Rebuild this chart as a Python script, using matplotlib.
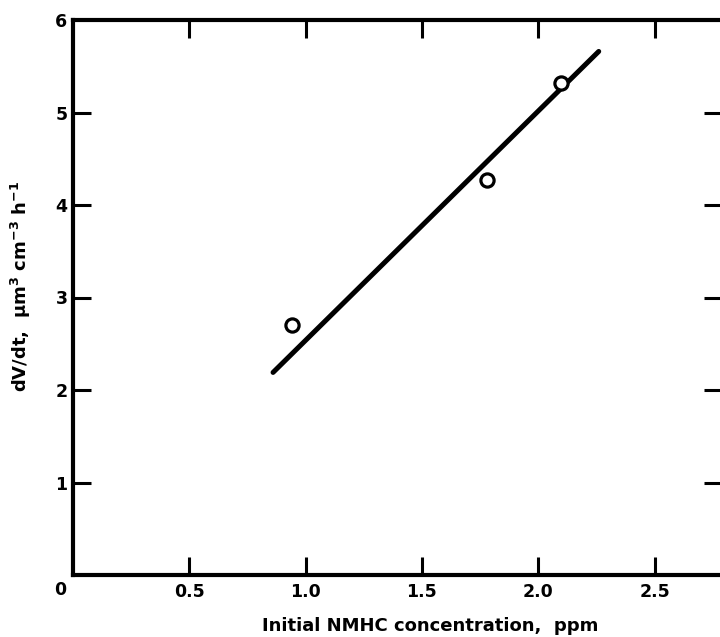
import matplotlib
matplotlib.use("Agg")
import matplotlib.pyplot as plt
from matplotlib.transforms import blended_transform_factory

# Data
nmhc_ppm = [0.94, 1.78, 2.10]
dvdt = [2.70, 4.27, 5.32]
fit_x = [0.86, 2.26]
fit_y = [2.19, 5.66]
xticks = [0.5, 1.0, 1.5, 2.0, 2.5]
xtick_labels = ["0.5", "1.0", "1.5", "2.0", "2.5"]
yticks = [1, 2, 3, 4, 5, 6]
ytick_labels = ["1", "2", "3", "4", "5", "6"]

plt.rcParams['font.family'] = ['DejaVu Sans']
plt.rcParams['font.weight'] = 'bold'

fig = plt.figure(figsize=(7.2, 6.37), dpi=100)
ax = fig.add_axes([73/720, 62/637, 649/720, 555/637])

ax.plot(fit_x, fit_y, color='black', lw=3.6, solid_capstyle='round', zorder=2)
ax.plot(nmhc_ppm, dvdt, linestyle='none', marker='o', ms=9.5, mfc='white',
        mec='black', mew=2.3, zorder=3)

ax.set_xlim(0, 2.79)
ax.set_ylim(0, 6)
ax.set_xticks(xticks)
ax.set_xticklabels(xtick_labels, fontsize=12.5, fontweight='bold')
ax.set_yticks(yticks)
ax.set_yticklabels(ytick_labels, fontsize=12.5, fontweight='bold')

ax.tick_params(axis='both', direction='in', length=13, width=2.2,
               top=True, right=True)
ax.tick_params(axis='x', pad=6)
ax.tick_params(axis='y', pad=4)
for t in ax.yaxis.get_major_ticks():
    if t.get_loc() == 6:
        t.tick1line.set_visible(False)
        t.tick2line.set_visible(False)

for s in ax.spines.values():
    s.set_linewidth(3)

trans = blended_transform_factory(ax.transAxes, ax.transData)
ax.text(-0.02, -0.16, "0", transform=trans, ha='center', va='center',
        fontsize=12.5, fontweight='bold')

ax.set_xlabel("Initial NMHC concentration,  ppm", fontsize=13, fontweight='bold')
ax.xaxis.set_label_coords(0.55, -0.075)
ax.set_ylabel(r"dV/dt,  $\mathbf{\mu}$m$^{\mathbf{3}}$ cm$^{\mathbf{-3}}$ h$^{\mathbf{-1}}$",
              fontsize=13, fontweight='bold')
ax.yaxis.set_label_coords(-0.062, 0.52)

fig.savefig("out.png", dpi=100)
